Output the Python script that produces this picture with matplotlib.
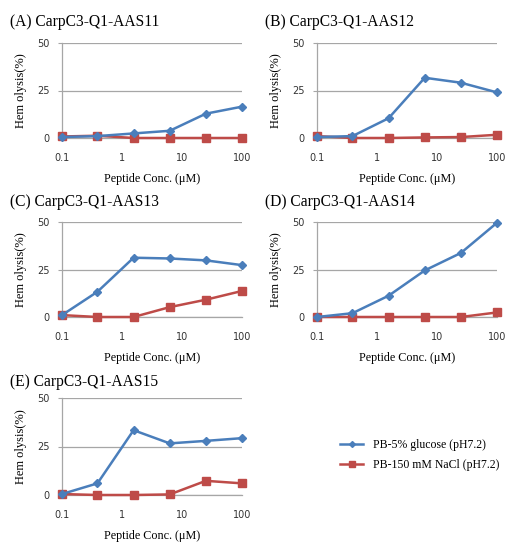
import matplotlib
matplotlib.use("Agg")
import matplotlib.pyplot as plt
from matplotlib.lines import Line2D

conc = [0.1, 0.39, 1.56, 6.25, 25, 100]

titles = ["(A) CarpC3-Q1-AAS11", "(B) CarpC3-Q1-AAS12", "(C) CarpC3-Q1-AAS13",
          "(D) CarpC3-Q1-AAS14", "(E) CarpC3-Q1-AAS15"]

glucose = [
    [0.5, 1.0, 2.4, 3.8, 12.8, 16.5],
    [0.5, 1.0, 10.4, 31.7, 29.1, 24.0],
    [1.0, 13.3, 31.2, 30.8, 29.8, 27.3],
    [0.0, 2.0, 11.2, 24.5, 33.7, 49.6],
    [0.5, 6.0, 33.4, 26.6, 27.9, 29.3],
]
nacl = [
    [0.8, 1.2, 0.0, 0.0, 0.0, 0.0],
    [1.0, 0.0, 0.0, 0.3, 0.5, 1.7],
    [1.0, 0.0, 0.0, 5.2, 9.1, 13.7],
    [0.0, 0.0, 0.0, 0.0, 0.0, 2.4],
    [0.5, 0.0, 0.0, 0.3, 7.3, 6.0],
]
legend_labels = ["PB-5% glucose (pH7.2)", "PB-150 mM NaCl (pH7.2)"]

BLUE = "#4A7EBB"
RED = "#BE4B48"
GRID = "#A6A6A6"
W, H = 511, 543

fig = plt.figure(figsize=(W / 100, H / 100), dpi=100)

# panel boxes in pixels: left, top, right, bottom
boxes = [(62, 43, 242, 138), (317, 43, 497, 138),
         (62, 222, 242, 317), (317, 222, 497, 317),
         (62, 398, 242, 495)]
title_pos = [(10, 22), (265, 22), (10, 202), (265, 202), (10, 382)]

for i in range(5):
    l, t, r, b = boxes[i]
    ax = fig.add_axes([l / W, 1 - b / H, (r - l) / W, (b - t) / H])
    ax.set_xscale("log")
    ax.set_xlim(0.1, 100)
    ax.set_ylim(0, 50)
    ax.plot(conc, nacl[i], color=RED, lw=1.8, marker="s", ms=5.5, clip_on=False, zorder=3)
    ax.plot(conc, glucose[i], color=BLUE, lw=1.8, marker="D", ms=4, clip_on=False, zorder=4)
    ax.set_yticks([0, 25, 50])
    ax.set_xticks([0.1, 1, 10, 100])
    ax.set_xticklabels(["0.1", "1", "10", "100"])
    ax.minorticks_off()
    ax.tick_params(axis="x", length=0, pad=11, labelsize=7, colors="#333333")
    ax.tick_params(axis="y", length=3, width=0.8, color=GRID, pad=6, labelsize=7, labelcolor="#333333")
    ax.grid(axis="y", color=GRID, lw=0.9)
    ax.set_axisbelow(True)
    for s in ["top", "right"]:
        ax.spines[s].set_visible(False)
    for s in ["left", "bottom"]:
        ax.spines[s].set_color(GRID)
        ax.spines[s].set_linewidth(0.9)
    ax.set_ylabel("Hem olysis(%)", family="Liberation Serif", fontsize=9, labelpad=7)
    ax.set_xlabel("Peptide Conc. (\u03bcM)", family="Liberation Serif", fontsize=8.7, labelpad=7)
    tx, ty = title_pos[i]
    fig.text(tx / W, 1 - ty / H, titles[i], family="Liberation Serif", fontsize=11.2,
             va="center", ha="left")

handles = [Line2D([], [], color=BLUE, lw=1.8, marker="D", ms=3),
           Line2D([], [], color=RED, lw=1.8, marker="s", ms=5)]
fig.legend(handles, legend_labels, loc="center left", bbox_to_anchor=(340 / W, 1 - 455 / H),
           frameon=False, prop={"family": "Liberation Serif", "size": 8.5},
           borderpad=0, borderaxespad=0,
           handlelength=1.95, handletextpad=0.85, labelspacing=0.7)

fig.savefig("out.png", dpi=100)
